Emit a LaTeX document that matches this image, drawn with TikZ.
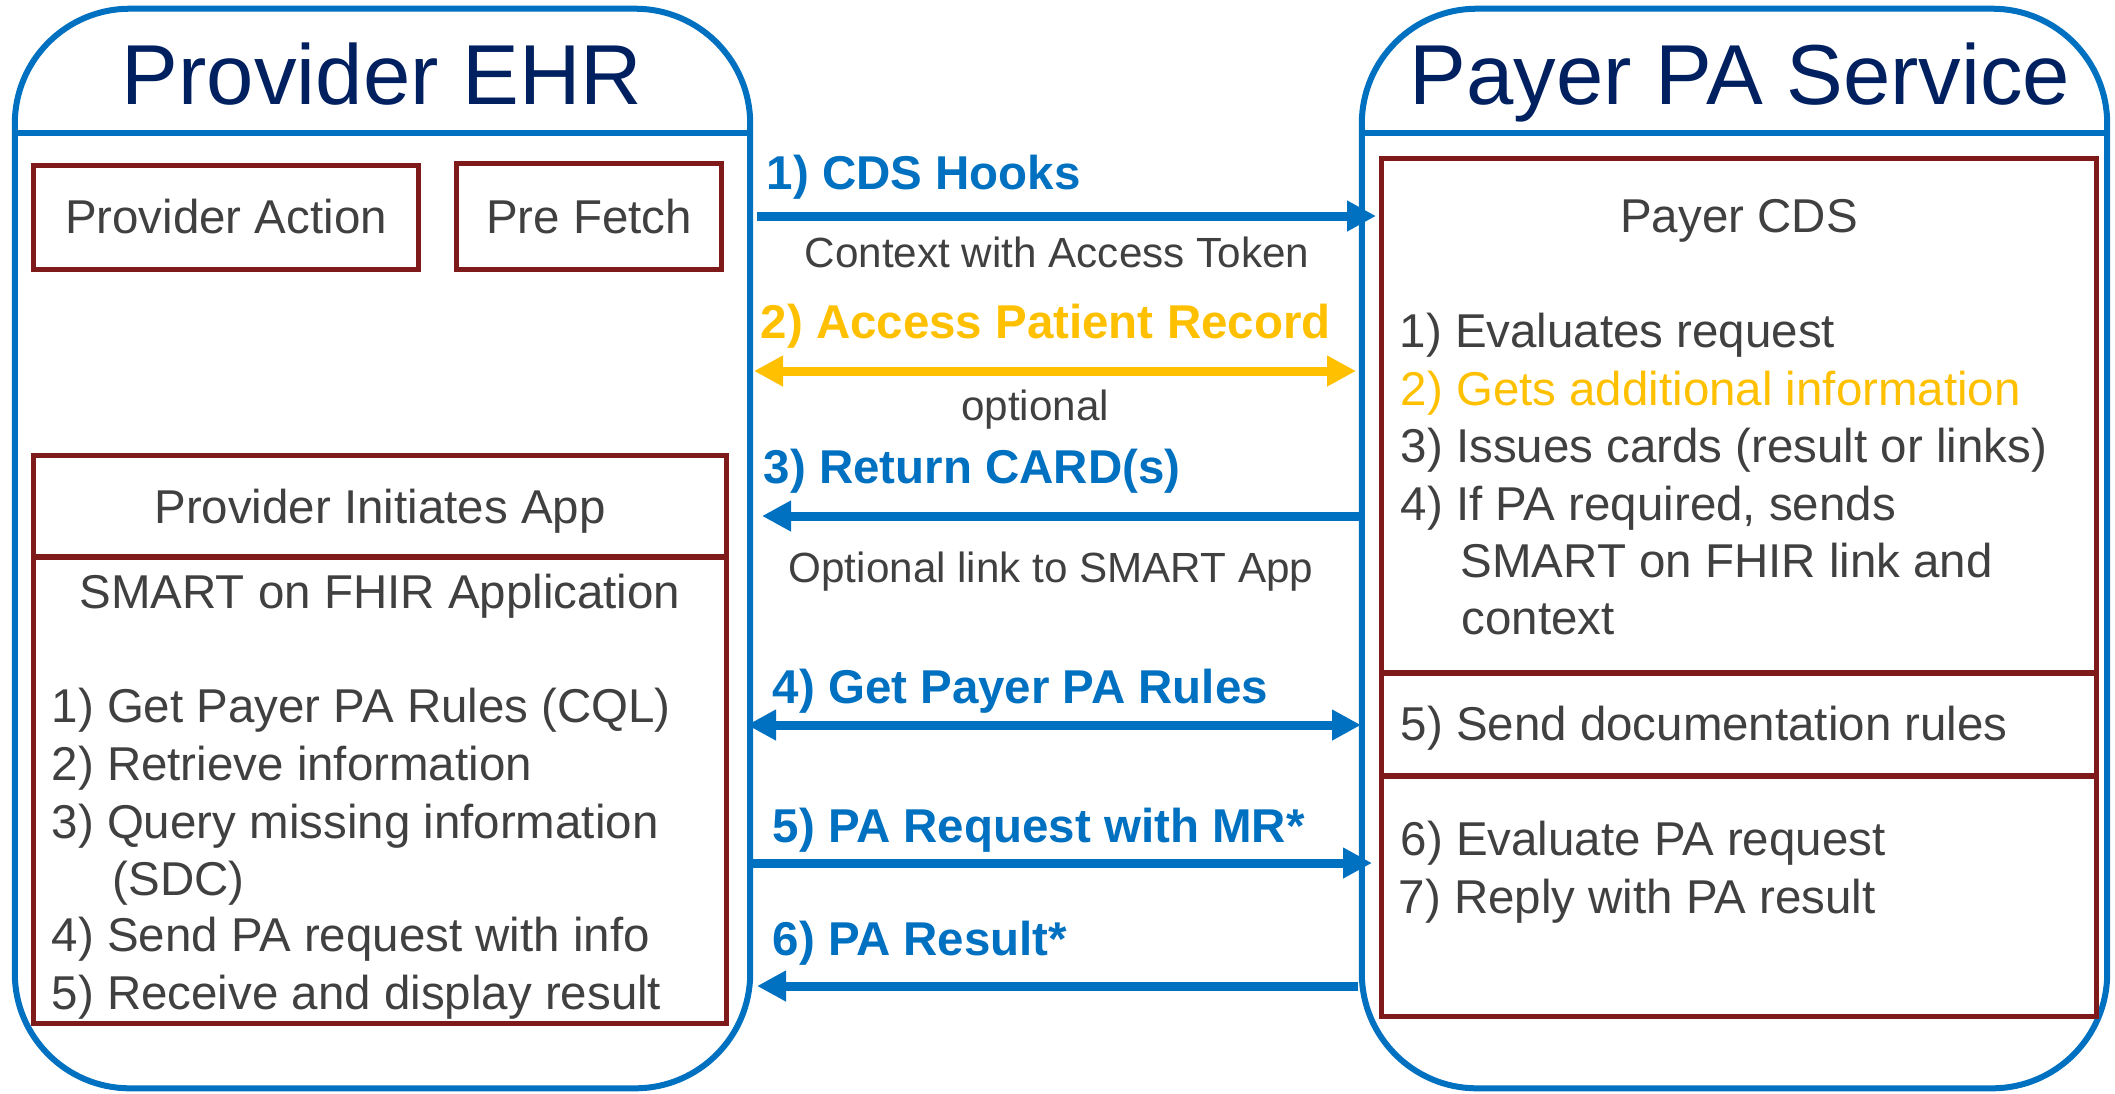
\documentclass[tikz,border=0pt]{standalone}
\usepackage{fontspec}
\setmainfont{Liberation Sans}
\usetikzlibrary{arrows.meta}

\definecolor{frameblue}{HTML}{0070C0}
\definecolor{titlenavy}{HTML}{002060}
\definecolor{boxred}{HTML}{7F1A1A}
\definecolor{textgray}{HTML}{404040}
\definecolor{optyellow}{HTML}{FFC000}

\tikzset{
  flowtip/.tip={Triangle[length=0.29cm,width=0.29cm]},
  container/.style={draw=frameblue, line width=0.06cm, rounded corners=1.15cm, inner sep=0pt},
  divider/.style={draw=frameblue, line width=0.06cm},
  panel/.style={draw=boxred, line width=0.05cm, inner sep=0pt},
  title/.style={text=titlenavy, font=\fontsize{24.2pt}{28pt}\selectfont, inner sep=0pt, anchor=base},
  body/.style={text=textgray, font=\fontsize{13.5pt}{16.4pt}\selectfont, inner sep=0pt, anchor=base west},
  bodyc/.style={body, anchor=base},
  note/.style={text=textgray, font=\fontsize{12pt}{14.4pt}\selectfont, inner sep=0pt, anchor=base},
  flowlabel/.style={text=frameblue, font=\fontsize{13.5pt}{16.4pt}\selectfont\bfseries, inner sep=0pt, anchor=base west},
  flow/.style={draw=frameblue, line width=0.09cm, -flowtip},
  flowboth/.style={draw=frameblue, line width=0.09cm, flowtip-flowtip},
}

\begin{document}
\begin{tikzpicture}[x=0.01cm, y=-0.01cm]
  \useasboundingbox (0,0) rectangle (2115,1093);
  \fill[white] (0,0) rectangle (2115,1093);

  % ---- the two systems ----
  \node[container, minimum width=7.35cm, minimum height=10.79cm] (ehr) at (382.5,548.5) {};
  \node[container, minimum width=7.45cm, minimum height=10.79cm] (payer) at (1734.5,548.5) {};
  \coordinate (hdr) at (0,133);
  \draw[divider] (ehr.west |- hdr) -- (ehr.east |- hdr);
  \draw[divider] (payer.west |- hdr) -- (payer.east |- hdr);
  \node[title] (ehrtitle) at (382,104) {Provider EHR};
  \node[title] (payertitle) at (1740,104) {Payer PA Service};

  % ---- provider side panels ----
  \node[panel, minimum width=3.84cm, minimum height=1.03cm] (action) at (226,217.5) {};
  \node[panel, minimum width=2.64cm, minimum height=1.05cm] (prefetch) at (589,216.5) {};
  \node[bodyc] (actiontxt) at (226,233) {Provider Action};
  \node[bodyc] (prefetchtxt) at (589,233) {Pre Fetch};

  \node[panel, minimum width=6.92cm, minimum height=1.01cm] (initiate) at (380,506.5) {};
  \node[panel, minimum width=6.92cm, minimum height=4.66cm] (smart) at (380,790) {};
  \node[bodyc] (initiatetxt) at (380,523) {Provider Initiates App};
  \node[bodyc] (smarttxt) at (380,608) {SMART on FHIR Application};
  \node[body] (s1) at (51,722) {1) Get Payer PA Rules (CQL)};
  \node[body] (s2) at (51,780) {2) Retrieve information};
  \node[body] (s3) at (51,838) {3) Query missing information};
  \node[body] (s3b) at (112,895) {(SDC)};
  \node[body] (s4) at (51,951) {4) Send PA request with info};
  \node[body] (s5) at (51,1009) {5) Receive and display result};

  % ---- payer side panels ----
  \node[panel, minimum width=7.14cm, minimum height=5.14cm] (cds) at (1739,416) {};
  \node[panel, minimum width=7.14cm, minimum height=1.03cm] (docrules) at (1739,724.5) {};
  \node[panel, minimum width=7.14cm, minimum height=2.40cm] (evaluate) at (1739,896) {};
  \node[bodyc] (cdstxt) at (1739,232) {Payer CDS};
  \node[body] (p1) at (1399,347) {1) Evaluates request};
  \node[body, text=optyellow] (p2) at (1400,405) {2) Gets additional information};
  \node[body] (p3) at (1400,462) {3) Issues cards (result or links)};
  \node[body] (p4) at (1400,520) {4) If PA required, sends};
  \node[body] (p4b) at (1460,577) {SMART on FHIR link and};
  \node[body] (p4c) at (1461,634) {context};
  \node[body] (p5) at (1400,740) {5) Send documentation rules};
  \node[body] (p6) at (1400,855) {6) Evaluate PA request};
  \node[body] (p7) at (1398,913) {7) Reply with PA result};

  % ---- exchanges between the systems ----
  \coordinate (m1a) at (757,216);  \coordinate (m1b) at (1376,216);
  \coordinate (m2a) at (754,371);  \coordinate (m2b) at (1356,371);
  \coordinate (m3a) at (1360,516); \coordinate (m3b) at (762,516);
  \coordinate (m4a) at (747,725);  \coordinate (m4b) at (1361,725);
  \coordinate (m5a) at (753,863);  \coordinate (m5b) at (1372,863);
  \coordinate (m6a) at (1358,986); \coordinate (m6b) at (757,986);

  \draw[flow] (m1a) -- (m1b);
  \draw[flowboth, draw=optyellow] (m2a) -- (m2b);
  \draw[flow] (m3a) -- (m3b);
  \draw[flowboth] (m4a) -- (m4b);
  \draw[flow] (m5a) -- (m5b);
  \draw[flow] (m6a) -- (m6b);

  \node[flowlabel] (l1) at (766,189) {1) CDS Hooks};
  \node[note] (l1b) at (1057,267) {Context with Access Token};
  \node[flowlabel, text=optyellow] (l2) at (760,338) {2) Access Patient Record};
  \node[note] (l2b) at (1035,420) {optional};
  \node[flowlabel] (l3) at (763,483) {3) Return CARD(s)};
  \node[note] (l3b) at (1051,582) {Optional link to SMART App};
  \node[flowlabel] (l4) at (772,703) {4) Get Payer PA Rules};
  \node[flowlabel] (l5) at (772,842) {5) PA Request with MR*};
  \node[flowlabel] (l6) at (772,955) {6) PA Result*};
\end{tikzpicture}
\end{document}
